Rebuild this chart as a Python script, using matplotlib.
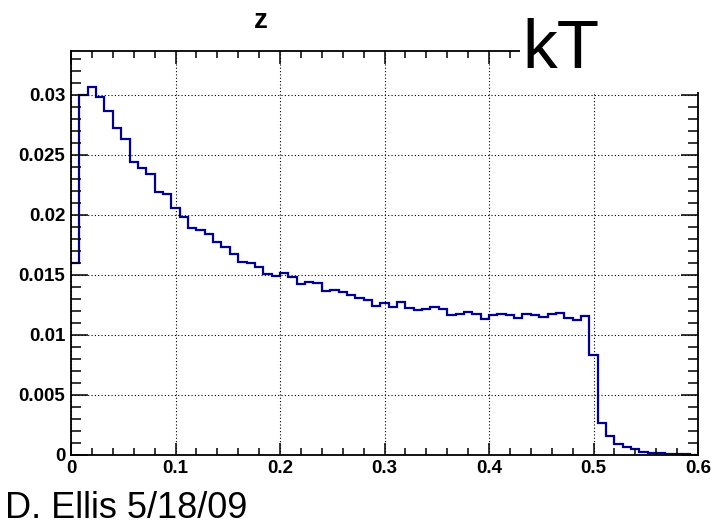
"""
Histograma z (kT) - recreación estilo ROOT
"""

import numpy as np
import matplotlib.pyplot as plt
from matplotlib.patches import Rectangle
from matplotlib.ticker import MultipleLocator, FuncFormatter

plt.rcParams['font.family'] = ['Liberation Sans', 'DejaVu Sans']

# ============================================
# DATOS
# ============================================
bin_width = 0.008
n_bins = 75

z_values = [
    0.01595, 0.02998, 0.03067, 0.02978, 0.02864, 0.02725, 0.02628, 0.02442,
    0.02392, 0.02336, 0.02192, 0.02172, 0.02053, 0.01983, 0.01886, 0.01872,
    0.01839, 0.01775, 0.01728, 0.01672, 0.01608, 0.01600, 0.01561, 0.01503,
    0.01493, 0.01514, 0.01483, 0.01420, 0.01439, 0.01428, 0.01364, 0.01370,
    0.01358, 0.01331, 0.01308, 0.01287, 0.01239, 0.01267, 0.01228, 0.01270,
    0.01225, 0.01206, 0.01217, 0.01228, 0.01211, 0.01161, 0.01170, 0.01190,
    0.01171, 0.01128, 0.01167, 0.01172, 0.01167, 0.01137, 0.01172, 0.01161,
    0.01148, 0.01172, 0.01181, 0.01142, 0.01125, 0.01156, 0.00828, 0.00261,
    0.00156, 0.00087, 0.00067, 0.00047, 0.00025, 0.00017, 0.00010, 0.00007,
    0.00004, 0.00002, 0.00001,
]

title = "z"
label_kt = "kT"
footer = "D. Ellis 5/18/09"

edges = np.arange(n_bins + 1) * bin_width

# ============================================
# FIGURA
# ============================================
fig = plt.figure(figsize=(7.12, 5.28), dpi=100)
ax = fig.add_axes([71 / 712, 1 - 454.7 / 528, 627 / 712, 403.7 / 528])

ax.stairs(z_values, edges, color='#000099', linewidth=1.6, baseline=None)

ax.set_xlim(0, 0.6)
ax.set_ylim(0, 0.03364)

ax.xaxis.set_major_locator(MultipleLocator(0.1))
ax.xaxis.set_minor_locator(MultipleLocator(0.02))
ax.yaxis.set_major_locator(MultipleLocator(0.005))
ax.yaxis.set_minor_locator(MultipleLocator(0.001))
fmt = FuncFormatter(lambda v, p: "%g" % round(v, 4))
ax.xaxis.set_major_formatter(fmt)
ax.yaxis.set_major_formatter(fmt)

ax.grid(True, which='major', linestyle=(0, (1, 2)), color='black', linewidth=0.8)
ax.tick_params(which='both', direction='in', top=True, right=True, width=1.1)
ax.tick_params(axis='x', which='major', length=9)
ax.tick_params(axis='x', which='minor', length=5)
ax.tick_params(axis='y', which='major', length=12)
ax.tick_params(axis='y', which='minor', length=7)
ax.tick_params(which='major', labelsize=13.5, pad=4)
for lbl in ax.get_xticklabels() + ax.get_yticklabels():
    lbl.set_fontweight('bold')
for s in ax.spines.values():
    s.set_linewidth(1.3)

# Caja blanca del título "kT" (tapa el marco)
fig.add_artist(Rectangle((520 / 712, 1 - 92 / 528), 1, 1, transform=fig.transFigure,
                         facecolor='white', edgecolor='none', zorder=5))
fig.text(522 / 712, 1 - 68.3 / 528, label_kt, fontsize=50, ha='left', va='baseline', zorder=6)

fig.text(261 / 712, 1 - 28 / 528, title, fontsize=20, fontweight='bold',
         ha='center', va='baseline')
fig.text(5 / 712, 1.5 / 528, footer, fontsize=26, ha='left', va='bottom')

fig.savefig('out.png', dpi=100, facecolor='white')
